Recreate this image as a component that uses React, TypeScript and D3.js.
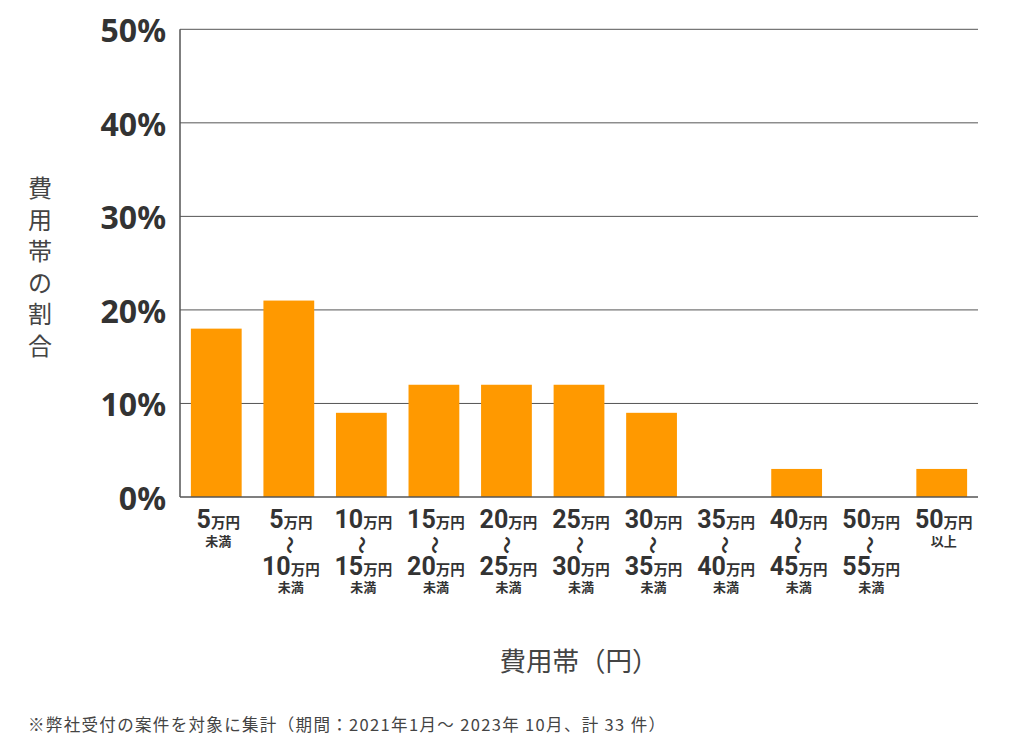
import React from "react";
import * as d3 from "d3";

const categories = ["5-", "5-10", "10-15", "15-20", "20-25", "25-30", "30-35", "35-40", "40-45", "50-55", "50+"];
const values = [18, 21, 9, 12, 12, 12, 9, 0, 3, 0, 3];
const lowNums = ["5", "5", "10", "15", "20", "25", "30", "35", "40", "50", "50"];
const highNums = ["", "10", "15", "20", "25", "30", "35", "40", "45", "55", ""];
const suffixes = ["未満", "未満", "未満", "未満", "未満", "未満", "未満", "未満", "未満", "未満", "以上"];
const yTicks = [0, 10, 20, 30, 40, 50];
const yTitle = "費用帯の割合";
const xTitle = "費用帯（円）";
const footnote = "※弊社受付の案件を対象に集計（期間：2021年1月～ 2023年 10月、計 33 件）";

const W = 1024;
const H = 746;
const left = 180;
const right = 978;
const top = 29.3;
const bottom = 497;

const TEXT = "#333333";
const NUMFONT = "Roboto, 'Noto Sans', sans-serif";
const CJK = "'Noto Sans CJK JP', 'Noto Sans', sans-serif";

export default function App() {
  const x = d3.scaleBand<string>().domain(categories).range([left, right]).paddingInner(0.3).paddingOuter(0.15);
  const y = d3.scaleLinear().domain([0, 50]).range([bottom, top]);
  const bw = x.bandwidth();

  const unitLabel = (num: string, xc: number, yb: number) => (
    <text x={xc} y={yb} textAnchor="middle" fill={TEXT} fontWeight={700}>
      <tspan fontFamily={NUMFONT} fontSize={25}>{num}</tspan>
      <tspan fontFamily={CJK} fontSize={14.5}>万円</tspan>
    </text>
  );

  return (
    <svg width={W} height={H} style={{ position: "absolute", left: 0, top: 0, background: "#fff" }}>
      {yTicks.filter((t) => t > 0).map((t) => (
        <line key={"g" + t} x1={left} x2={right} y1={y(t)} y2={y(t)} stroke="#555" strokeWidth={1} />
      ))}
      {categories.map((c, i) => (
        <rect key={c} x={x(c)} y={y(values[i])} width={bw} height={bottom - y(values[i])} fill="#FF9900" />
      ))}
      <line x1={left} x2={left} y1={top} y2={bottom} stroke="#555" strokeWidth={1.5} />
      <line x1={left} x2={right} y1={bottom} y2={bottom} stroke="#555" strokeWidth={1.5} />
      {yTicks.map((t) => (
        <text key={"t" + t} x={166} y={y(t) + 13} textAnchor="end" fontFamily="'Noto Sans', sans-serif" fontWeight={700} fontSize={32} fill={TEXT}>
          {t}%
        </text>
      ))}
      {categories.map((c, i) => {
        const xc = (x(c) as number) + bw / 2 + 2;
        const hasHigh = highNums[i] !== "";
        return (
          <g key={"l" + c}>
            {unitLabel(lowNums[i], xc, 528)}
            {hasHigh ? (
              <>
                <text x={xc} y={545} textAnchor="middle" dominantBaseline="central" fontFamily={CJK} fontWeight={700} fontSize={18} fill={TEXT} transform={`rotate(90 ${xc} 545)`}>
                  〜
                </text>
                {unitLabel(highNums[i], xc, 575)}
                <text x={xc} y={592} textAnchor="middle" fontFamily={CJK} fontWeight={700} fontSize={13} fill={TEXT}>
                  {suffixes[i]}
                </text>
              </>
            ) : (
              <text x={xc} y={546} textAnchor="middle" fontFamily={CJK} fontWeight={700} fontSize={13} fill={TEXT}>
                {suffixes[i]}
              </text>
            )}
          </g>
        );
      })}
      {yTitle.split("").map((ch, i) => (
        <text key={"yt" + i} x={40} y={197 + i * 31.5} textAnchor="middle" fontFamily={CJK} fontSize={24} fill="#444">
          {ch}
        </text>
      ))}
      <text x={(left + right) / 2} y={671} textAnchor="middle" fontFamily={CJK} fontSize={26.5} fill="#444">
        {xTitle}
      </text>
      <text x={28} y={731} fontFamily={CJK} fontSize={16.5} fill="#444" textLength={637} lengthAdjust="spacing">
        {footnote}
      </text>
    </svg>
  );
}
